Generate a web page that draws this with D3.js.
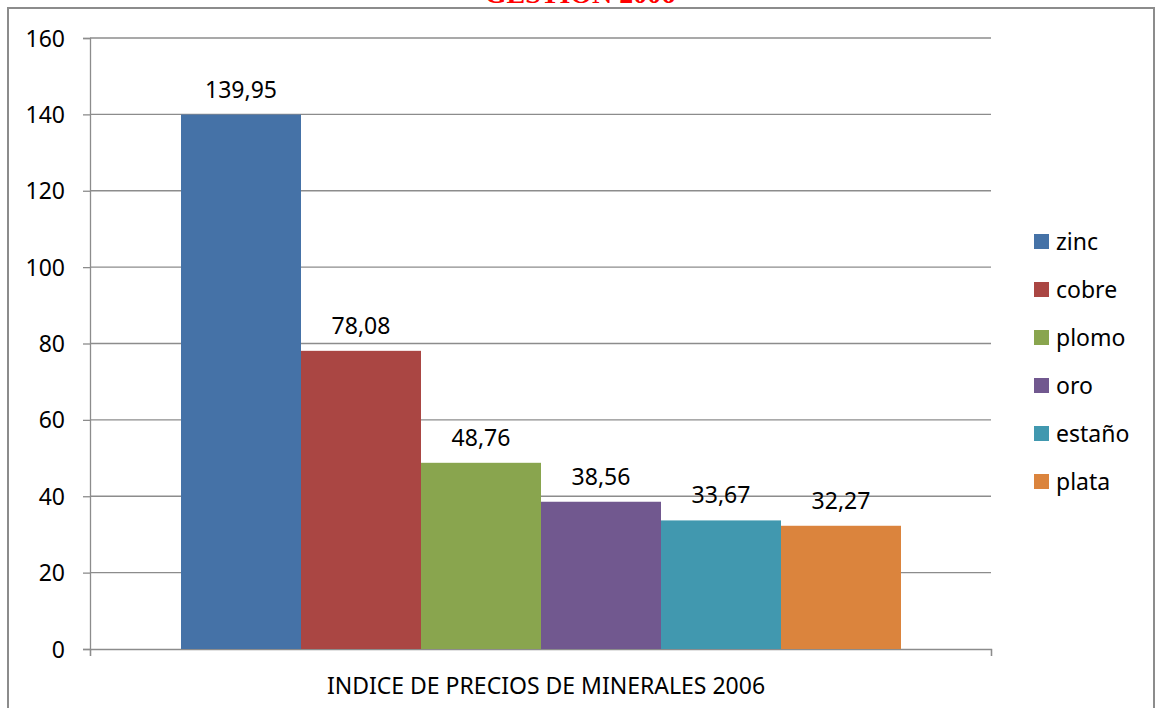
<!DOCTYPE html>
<html><head><meta charset="utf-8">
<script src="https://cdn.jsdelivr.net/npm/d3@7"></script>
<style>body{margin:0;background:#fff}svg{display:block}</style>
</head><body>
<svg id="c" width="1156" height="708"></svg>
<script>
const categories = ["INDICE DE PRECIOS DE MINERALES 2006"];
const series = ["zinc","cobre","plomo","oro","estaño","plata"];
const values = [139.95, 78.08, 48.76, 38.56, 33.67, 32.27];
const labels = ["139,95","78,08","48,76","38,56","33,67","32,27"];
const colors = ["#4572A7","#AA4643","#89A54E","#71588F","#4198AF","#DB843D"];
const yTicks = [0,20,40,60,80,100,120,140,160];
const title = "GESTION 2006";

const svg = d3.select("#c");
const font = "'Noto Sans', 'Open Sans', sans-serif";
const m = {left:90, right:991, top:38, bottom:649};

// outer frame
svg.append("rect").attr("x",8).attr("y",8).attr("width",1146).attr("height",720)
  .attr("fill","none").attr("stroke","#8c8c8c").attr("stroke-width",2);

// clipped title (only its lower edge is visible in the reference)
svg.append("text").attr("x",580).attr("y",3).attr("text-anchor","middle")
  .attr("font-family","'Liberation Serif', serif").attr("font-weight","bold")
  .attr("font-size",28).attr("fill","#ff0000").text(title);

const y = d3.scaleLinear().domain([0,160]).range([m.bottom,m.top]);
const x1 = d3.scaleBand().domain(series).range([181,901]);

// gridlines
svg.append("g").selectAll("line").data(yTicks.filter(d=>d>0)).join("line")
  .attr("x1",m.left).attr("x2",m.right).attr("y1",d=>y(d)).attr("y2",d=>y(d))
  .attr("stroke","#8c8c8c").attr("stroke-width",1.3);

// y axis
const yAxis = d3.axisLeft(y).tickValues(yTicks).tickSize(7).tickPadding(18).tickFormat(d=>d);
const ga = svg.append("g").attr("transform",`translate(${m.left},0)`).call(yAxis);
ga.select(".domain").attr("stroke","#8c8c8c").attr("stroke-width",1.3);
ga.selectAll(".tick line").attr("stroke","#8c8c8c").attr("stroke-width",1.3);
ga.selectAll(".tick text").attr("font-family",font).attr("font-size",23).attr("fill","#000").attr("dy","0.35em");

// x axis
const xAxis = d3.axisBottom(d3.scaleLinear().domain([0,1]).range([m.left,m.right])).tickValues([0,1]).tickSize(7).tickFormat("");
const gx = svg.append("g").attr("transform",`translate(0,${m.bottom})`).call(xAxis);
gx.select(".domain").attr("stroke","#8c8c8c").attr("stroke-width",1.3);
gx.selectAll(".tick line").attr("stroke","#8c8c8c").attr("stroke-width",1.3);

svg.append("text").attr("x",546).attr("y",694).attr("text-anchor","middle")
  .attr("font-family",font).attr("font-size",23).attr("fill","#000").text(categories[0]);

// bars
svg.append("g").selectAll("rect").data(series).join("rect")
  .attr("x",d=>x1(d)).attr("width",x1.bandwidth())
  .attr("y",(d,i)=>y(values[i])).attr("height",(d,i)=>y(0)-y(values[i]))
  .attr("fill",(d,i)=>colors[i]);

// labels
svg.append("g").selectAll("text").data(series).join("text")
  .attr("x",d=>x1(d)+x1.bandwidth()/2).attr("y",(d,i)=>y(values[i])-17)
  .attr("text-anchor","middle").attr("font-family",font).attr("font-size",23).attr("fill","#000")
  .text((d,i)=>labels[i]);

// legend
const lg = svg.append("g").selectAll("g").data(series).join("g")
  .attr("transform",(d,i)=>`translate(1034,${234+i*48})`);
lg.append("rect").attr("width",15).attr("height",15).attr("fill",(d,i)=>colors[i]);
lg.append("text").attr("x",22).attr("y",7.5).attr("dy","0.35em")
  .attr("font-family",font).attr("font-size",23).attr("fill","#000").text(d=>d);
</script>
</body></html>
